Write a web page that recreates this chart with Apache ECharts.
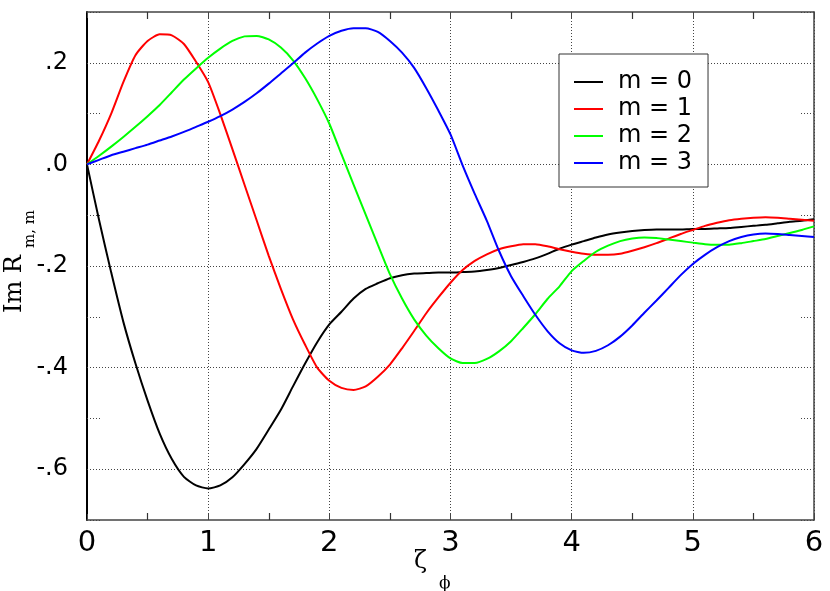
<!DOCTYPE html>
<html>
<head>
<meta charset="utf-8">
<script src="https://cdn.jsdelivr.net/npm/echarts@6/dist/echarts.min.js"></script>
<style>
  html, body { margin: 0; background: #fff; }
  #chart { width: 830px; height: 591px; }
</style>
</head>
<body>
<div id="chart"></div>
<script>
// zeta_phi sample points
var zeta = [
  0.0, 0.1, 0.2, 0.3, 0.4, 0.5, 0.6, 0.7, 0.8, 0.9,
  1.0, 1.1, 1.2, 1.3, 1.4, 1.5, 1.6, 1.7, 1.8, 1.9,
  2.0, 2.1, 2.2, 2.3, 2.4, 2.5, 2.6, 2.7, 2.8, 2.9,
  3.0, 3.1, 3.2, 3.3, 3.4, 3.5, 3.6, 3.7, 3.8, 3.9,
  4.0, 4.1, 4.2, 4.3, 4.4, 4.5, 4.6, 4.7, 4.8, 4.9,
  5.0, 5.1, 5.2, 5.3, 5.4, 5.5, 5.6, 5.7, 5.8, 5.9,
  6.0
];

// Im R_{m,m}
var m0 = [
  0, -0.11, -0.213, -0.31, -0.392, -0.465, -0.53, -0.58, -0.615, -0.632,
  -0.638, -0.632, -0.616, -0.59, -0.56, -0.522, -0.483, -0.437, -0.392, -0.35,
  -0.315, -0.29, -0.264, -0.245, -0.234, -0.224, -0.218, -0.215, -0.214, -0.213,
  -0.213, -0.212, -0.211, -0.208, -0.204, -0.198, -0.192, -0.185, -0.176, -0.166,
  -0.158, -0.151, -0.144, -0.138, -0.134, -0.131, -0.129, -0.128, -0.128, -0.128,
  -0.127, -0.127, -0.126, -0.125, -0.123, -0.121, -0.119, -0.116, -0.113, -0.111,
  -0.108
];
var m1 = [
  0, 0.047, 0.10, 0.162, 0.215, 0.243, 0.256, 0.254, 0.237, 0.202,
  0.162, 0.099, 0.030, -0.040, -0.11, -0.18, -0.245, -0.305, -0.355, -0.40,
  -0.426, -0.44, -0.444, -0.437, -0.418, -0.394, -0.362, -0.328, -0.293, -0.262,
  -0.233, -0.208, -0.19, -0.177, -0.167, -0.161, -0.157, -0.157, -0.161, -0.167,
  -0.172, -0.176, -0.178, -0.178, -0.176, -0.17, -0.163, -0.155, -0.146, -0.137,
  -0.129, -0.121, -0.115, -0.11, -0.107, -0.105, -0.104, -0.105, -0.107, -0.109,
  -0.111
];
var m2 = [
  0, 0.017, 0.035, 0.054, 0.074, 0.095, 0.117, 0.142, 0.167, 0.189,
  0.21, 0.228, 0.243, 0.252, 0.253, 0.246, 0.23, 0.205, 0.17, 0.128,
  0.08, 0.02, -0.04, -0.099, -0.158, -0.216, -0.264, -0.305, -0.337, -0.362,
  -0.382, -0.391, -0.391, -0.383, -0.368, -0.348, -0.322, -0.295, -0.265, -0.24,
  -0.21, -0.19, -0.172, -0.16, -0.151, -0.146, -0.144, -0.145, -0.148, -0.151,
  -0.154, -0.157, -0.158, -0.158, -0.155, -0.151, -0.147, -0.141, -0.135, -0.129,
  -0.122
];
var m3 = [
  0, 0.009, 0.018, 0.025, 0.032, 0.039, 0.047, 0.055, 0.064, 0.074,
  0.084, 0.095, 0.108, 0.123, 0.14, 0.159, 0.179, 0.199, 0.22, 0.238,
  0.253, 0.263, 0.268, 0.268, 0.261, 0.243, 0.22, 0.19, 0.15, 0.106,
  0.059, -0.002, -0.058, -0.111, -0.17, -0.22, -0.259, -0.296, -0.328, -0.352,
  -0.366, -0.371, -0.367, -0.356, -0.339, -0.317, -0.292, -0.268, -0.243, -0.218,
  -0.196, -0.178, -0.163, -0.151, -0.143, -0.138, -0.136, -0.137, -0.139, -0.141,
  -0.143
];

var names = ['m = 0', 'm = 1', 'm = 2', 'm = 3'];
var colors = ['#000000', '#ff0000', '#00ff00', '#0000ff'];

function pairs(ys) {
  return zeta.map(function (x, i) { return [x, ys[i]]; });
}

var sans = 'DejaVu Sans';
var serif = 'DejaVu Serif';
var gridLine = { type: [1, 2], width: 1 };

// y tick labels like ".2", "-.4"
function yLabel(v) {
  var k = Math.round(v * 10);
  if (k % 2 !== 0) return '';
  var s = Math.abs(v).toFixed(1).replace(/^0/, '');
  return (k < 0 ? '-' : '') + s;
}

// axis titles with subscripts, placed as free text
function title(txt, x, y, size, rot) {
  return {
    type: 'text',
    x: x,
    y: y,
    rotation: rot || 0,
    style: {
      text: txt,
      fontFamily: serif,
      fontSize: size,
      fill: '#000',
      textAlign: 'left',
      textVerticalAlign: 'middle'
    }
  };
}

var myChart = echarts.init(document.getElementById('chart'));

var option = {
  animation: false,
  backgroundColor: '#fff',
  grid: { left: 87, right: 16, top: 12, bottom: 71, containLabel: false, outerBoundsMode: 'none' },
  graphic: [
    title('Im R', 15, 313, 24, Math.PI / 2),
    title('m, m', 30, 248, 15, Math.PI / 2),
    title('ζ', 414, 562, 24),
    title('ϕ', 439, 584, 17)
  ],
  legend: {
    data: names,
    orient: 'vertical',
    left: 559,
    top: 54,
    backgroundColor: '#fff',
    borderColor: '#333',
    borderWidth: 1,
    borderRadius: 0,
    padding: [15, 16, 11, 15],
    itemWidth: 29,
    itemHeight: 2,
    itemGap: 1,
    icon: 'rect',
    textStyle: {
      fontFamily: sans,
      fontSize: 24,
      color: '#000',
      lineHeight: 26,
      padding: [0, 0, 0, 10]
    }
  },
  xAxis: [
    {
      type: 'value',
      min: 0,
      max: 6,
      interval: 1,
      position: 'bottom',
      axisLine: { show: true, onZero: false, lineStyle: { color: '#444', width: 1.5 } },
      axisTick: { show: true, inside: true, length: 6, lineStyle: { color: '#444' } },
      minorTick: { show: true, splitNumber: 2, length: 7, lineStyle: { color: '#333', width: 1.2 } },
      axisLabel: { fontFamily: sans, fontSize: 29, color: '#000', margin: 9 },
      splitLine: { show: true, lineStyle: Object.assign({ color: '#444' }, gridLine) }
    },
    {
      type: 'value',
      min: 0,
      max: 6,
      interval: 1,
      position: 'top',
      axisLine: { show: true, onZero: false, lineStyle: { color: '#444', width: 1.5 } },
      axisTick: { show: true, inside: true, length: 6, lineStyle: { color: '#444' } },
      minorTick: { show: true, splitNumber: 2, length: 7, lineStyle: { color: '#333', width: 1.2 } },
      axisLabel: { show: false },
      splitLine: { show: false }
    }
  ],
  yAxis: [
    {
      type: 'value',
      min: -0.7,
      max: 0.3,
      interval: 0.1,
      position: 'left',
      axisLine: { show: true, onZero: false, lineStyle: { color: '#000', width: 2 } },
      axisTick: { show: true, inside: true, length: 13, lineStyle: Object.assign({ color: '#444' }, gridLine) },
      axisLabel: { fontFamily: sans, fontSize: 24, color: '#000', margin: 19, formatter: yLabel },
      splitLine: {
        show: true,
        lineStyle: Object.assign({ color: ['transparent', '#444'] }, gridLine)
      }
    },
    {
      type: 'value',
      min: -0.7,
      max: 0.3,
      interval: 0.1,
      position: 'right',
      axisLine: { show: true, onZero: false, lineStyle: { color: '#444', width: 1.5 } },
      axisTick: { show: true, inside: true, length: 13, lineStyle: Object.assign({ color: '#444' }, gridLine) },
      axisLabel: { show: false },
      splitLine: { show: false }
    }
  ],
  series: [m0, m1, m2, m3].map(function (ys, i) {
    return {
      name: names[i],
      type: 'line',
      xAxisIndex: 0,
      yAxisIndex: 0,
      data: pairs(ys),
      showSymbol: false,
      smooth: 0.2,
      color: colors[i],
      lineStyle: { color: colors[i], width: 2 },
      z: 3
    };
  })
};

myChart.setOption(option);
</script>
</body>
</html>
